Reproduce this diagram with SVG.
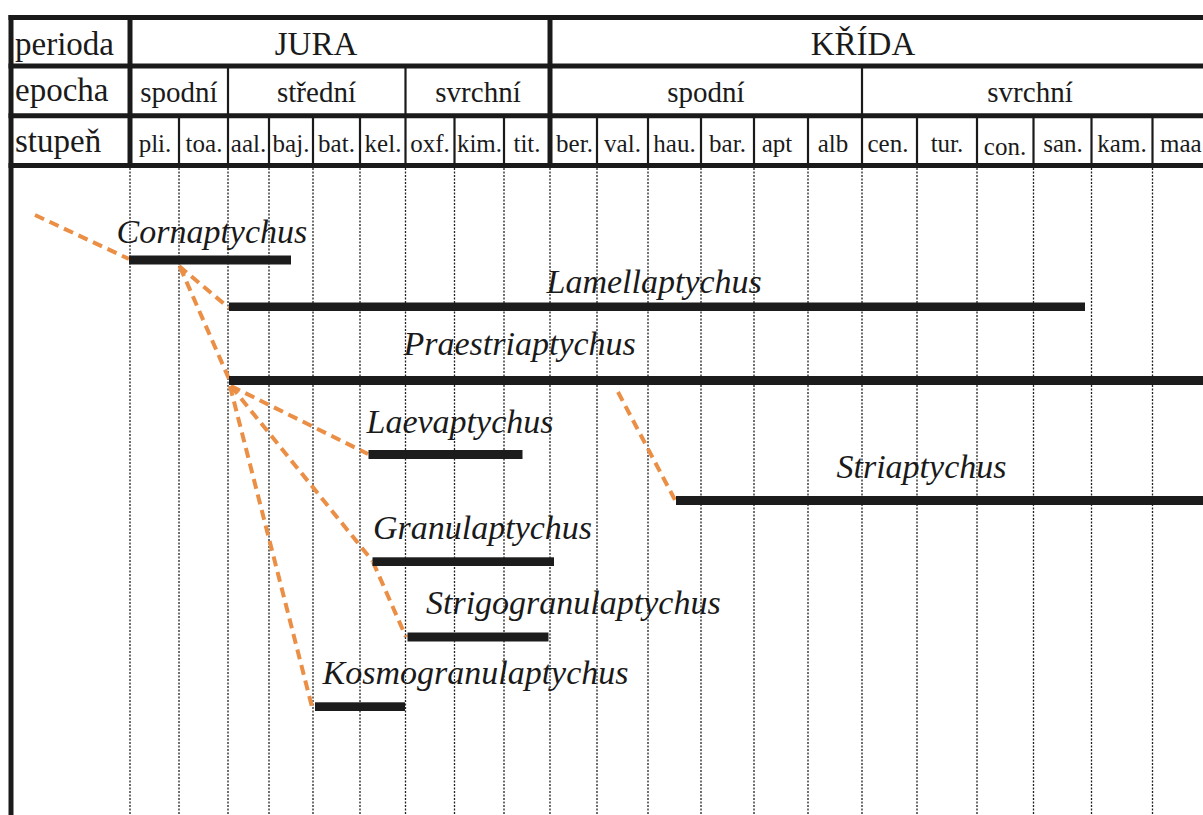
<svg xmlns="http://www.w3.org/2000/svg" width="1203" height="815" viewBox="0 0 1203 815">
<style>
.bg{fill:#ffffff}
.thick{stroke:#1a1a1a;stroke-width:5;fill:none}
.thin{stroke:#1a1a1a;stroke-width:2.2;fill:none}
.dot{stroke:#222222;stroke-width:1.3;stroke-dasharray:2 1.5;fill:none}
.hdr{font-family:"Liberation Serif","Times New Roman",serif;fill:#1a1a1a}
.big{font-size:33px}
.mid{font-size:29px}
.sm{font-size:25px}
.bar{fill:#1c1c1c}
.tx{font-family:"Liberation Serif","Times New Roman",serif;font-style:italic;font-size:34px;fill:#1a1a1a}
.con{stroke:#EA8F45;stroke-width:4;stroke-dasharray:10 6;fill:none}
</style>
<rect class="bg" x="0" y="0" width="1203" height="815"/>

<g id="grid">
<line class="dot" x1="130" y1="168" x2="130" y2="815"/>
<line class="dot" x1="179" y1="168" x2="179" y2="815"/>
<line class="dot" x1="228" y1="168" x2="228" y2="815"/>
<line class="dot" x1="269" y1="168" x2="269" y2="815"/>
<line class="dot" x1="313" y1="168" x2="313" y2="815"/>
<line class="dot" x1="360" y1="168" x2="360" y2="815"/>
<line class="dot" x1="405.5" y1="168" x2="405.5" y2="815"/>
<line class="dot" x1="454.5" y1="168" x2="454.5" y2="815"/>
<line class="dot" x1="504" y1="168" x2="504" y2="815"/>
<line class="dot" x1="550" y1="168" x2="550" y2="815"/>
<line class="dot" x1="597" y1="168" x2="597" y2="815"/>
<line class="dot" x1="648" y1="168" x2="648" y2="815"/>
<line class="dot" x1="701" y1="168" x2="701" y2="815"/>
<line class="dot" x1="754" y1="168" x2="754" y2="815"/>
<line class="dot" x1="808" y1="168" x2="808" y2="815"/>
<line class="dot" x1="862" y1="168" x2="862" y2="815"/>
<line class="dot" x1="917" y1="168" x2="917" y2="815"/>
<line class="dot" x1="977" y1="168" x2="977" y2="815"/>
<line class="dot" x1="1033.5" y1="168" x2="1033.5" y2="815"/>
<line class="dot" x1="1091.5" y1="168" x2="1091.5" y2="815"/>
<line class="dot" x1="1152.5" y1="168" x2="1152.5" y2="815"/>
</g>

<g id="header">
<line class="thick" x1="11" y1="15" x2="11" y2="815"/>
<line class="thick" x1="8.5" y1="17.5" x2="1203" y2="17.5"/>
<line class="thick" x1="8.5" y1="66" x2="1203" y2="66"/>
<line class="thick" x1="8.5" y1="115.7" x2="1203" y2="115.7"/>
<line class="thick" x1="8.5" y1="165.5" x2="1203" y2="165.5"/>
<line class="thick" x1="130" y1="15" x2="130" y2="168"/>
<line class="thick" x1="550" y1="15" x2="550" y2="168"/>
<line class="thin" x1="228" y1="66" x2="228" y2="165"/>
<line class="thin" x1="405.5" y1="66" x2="405.5" y2="165"/>
<line class="thin" x1="862" y1="66" x2="862" y2="165"/>
<line class="thin" x1="179" y1="116" x2="179" y2="165"/>
<line class="thin" x1="269" y1="116" x2="269" y2="165"/>
<line class="thin" x1="313" y1="116" x2="313" y2="165"/>
<line class="thin" x1="360" y1="116" x2="360" y2="165"/>
<line class="thin" x1="454.5" y1="116" x2="454.5" y2="165"/>
<line class="thin" x1="504" y1="116" x2="504" y2="165"/>
<line class="thin" x1="597" y1="116" x2="597" y2="165"/>
<line class="thin" x1="648" y1="116" x2="648" y2="165"/>
<line class="thin" x1="701" y1="116" x2="701" y2="165"/>
<line class="thin" x1="754" y1="116" x2="754" y2="165"/>
<line class="thin" x1="808" y1="116" x2="808" y2="165"/>
<line class="thin" x1="917" y1="116" x2="917" y2="165"/>
<line class="thin" x1="977" y1="116" x2="977" y2="165"/>
<line class="thin" x1="1033.5" y1="116" x2="1033.5" y2="165"/>
<line class="thin" x1="1091.5" y1="116" x2="1091.5" y2="165"/>
<line class="thin" x1="1152.5" y1="116" x2="1152.5" y2="165"/>

<text class="hdr big" x="15" y="55">perioda</text>
<text class="hdr big" x="15" y="101">epocha</text>
<text class="hdr big" x="15" y="152">stupeň</text>
<text class="hdr big" x="316" y="55" text-anchor="middle">JURA</text>
<text class="hdr big" x="863" y="55" text-anchor="middle">KŘÍDA</text>

<g text-anchor="middle">
<text class="hdr mid" x="179" y="102">spodní</text>
<text class="hdr mid" x="316.5" y="102">střední</text>
<text class="hdr mid" x="478" y="102">svrchní</text>
<text class="hdr mid" x="706" y="102">spodní</text>
<text class="hdr mid" x="1030" y="102">svrchní</text>

<text class="hdr sm" x="155" y="152">pli.</text>
<text class="hdr sm" x="204" y="152">toa.</text>
<text class="hdr sm" x="248.5" y="152">aal.</text>
<text class="hdr sm" x="291" y="152">baj.</text>
<text class="hdr sm" x="336.5" y="152">bat.</text>
<text class="hdr sm" x="383" y="152">kel.</text>
<text class="hdr sm" x="430" y="152">oxf.</text>
<text class="hdr sm" x="479.5" y="152">kim.</text>
<text class="hdr sm" x="527" y="152">tit.</text>
<text class="hdr sm" x="574.5" y="152">ber.</text>
<text class="hdr sm" x="622.5" y="152">val.</text>
<text class="hdr sm" x="674.5" y="152">hau.</text>
<text class="hdr sm" x="727.5" y="152">bar.</text>
<text class="hdr sm" x="777" y="152">apt</text>
<text class="hdr sm" x="833" y="152">alb</text>
<text class="hdr sm" x="888" y="152">cen.</text>
<text class="hdr sm" x="947" y="152">tur.</text>
<text class="hdr sm" x="1005" y="155">con.</text>
<text class="hdr sm" x="1063" y="152">san.</text>
<text class="hdr sm" x="1122" y="152">kam.</text>
</g>
<text class="hdr sm" x="1160" y="152">maa</text>
</g>

<g id="connectors">
<line class="con" x1="35" y1="215" x2="129" y2="259"/>
<line class="con" x1="179" y1="266" x2="229" y2="308"/>
<line class="con" x1="180" y1="267" x2="229.5" y2="380"/>
<line class="con" x1="231" y1="386" x2="368" y2="454"/>
<line class="con" x1="231" y1="386" x2="372.5" y2="561"/>
<line class="con" x1="373" y1="562" x2="406" y2="637"/>
<line class="con" x1="230" y1="386" x2="312" y2="707"/>
<line class="con" x1="618" y1="392" x2="675" y2="500"/>
</g>

<g id="cornaptychus">
<rect class="bar" x="129" y="255.5" width="162" height="9"/>
<text class="tx" x="116.5" y="243">Cornaptychus</text>
</g>
<g id="lamellaptychus">
<rect class="bar" x="229" y="302.5" width="856" height="8.5"/>
<text class="tx" x="546.5" y="292.5">Lamellaptychus</text>
</g>
<g id="praestriaptychus">
<rect class="bar" x="229" y="376" width="974" height="9"/>
<text class="tx" x="403.5" y="354.5">Praestriaptychus</text>
</g>
<g id="laevaptychus">
<rect class="bar" x="368.5" y="450" width="154" height="9"/>
<text class="tx" x="366.5" y="433">Laevaptychus</text>
</g>
<g id="granulaptychus">
<rect class="bar" x="372.5" y="557.3" width="181.5" height="8.7"/>
<text class="tx" x="373" y="539">Granulaptychus</text>
</g>
<g id="strigogranulaptychus">
<rect class="bar" x="407.5" y="632.5" width="141" height="9"/>
<text class="tx" x="426" y="614">Strigogranulaptychus</text>
</g>
<g id="kosmogranulaptychus">
<rect class="bar" x="315" y="702.3" width="90" height="8.7"/>
<text class="tx" x="322.5" y="684">Kosmogranulaptychus</text>
</g>
<g id="striaptychus">
<rect class="bar" x="676" y="496" width="527" height="9"/>
<text class="tx" x="836.5" y="478">Striaptychus</text>
</g>
</svg>
